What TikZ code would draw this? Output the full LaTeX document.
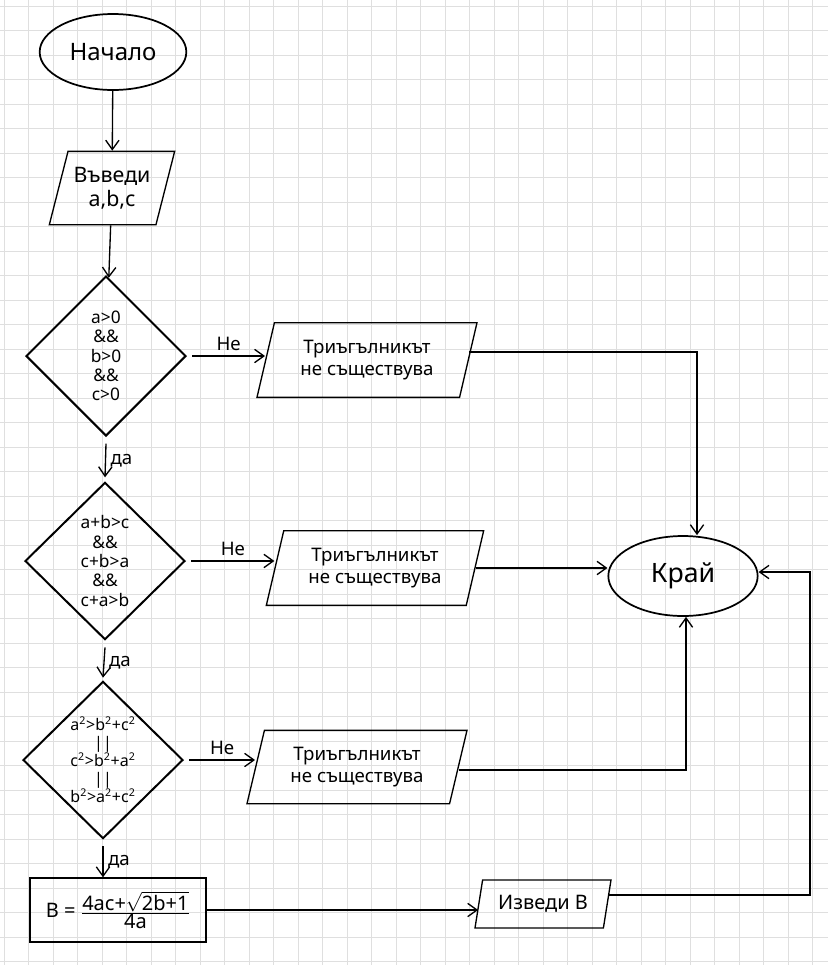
\documentclass[tikz,border=0pt]{standalone}
\usepackage{fontspec}
\setmainfont{Noto Sans}
\usetikzlibrary{shapes.geometric,arrows.meta}
\begin{document}
\begin{tikzpicture}[x=0.75pt,y=-0.75pt,
  every node/.style={align=center},
  line/.style={draw=black, line width=1pt},
  arr/.style={line, -{Straight Barb[length=7pt,width=10pt]}},
  term/.style={ellipse, line width=1.3pt, draw, inner sep=0pt},
  dec/.style={diamond, draw, line width=1.5pt, inner sep=0pt},
  io/.style={trapezium, trapezium left angle=66, trapezium right angle=114, trapezium stretches body, draw, line width=1pt, inner sep=0pt, font=\fontsize{14}{16}\selectfont},
  lab/.style={font=\fontsize{14}{16}\selectfont}]
\fill[white] (0,0) rectangle (828,965);
\useasboundingbox (0,0) rectangle (828,965);
\foreach \i in {0,...,34} {\draw[gray!25, line width=0.6pt] (4+\i*24.5,0) -- (4+\i*24.5,965);}
\foreach \i in {0,...,39} {\draw[gray!25, line width=0.6pt] (0,6+\i*24.5) -- (828,6+\i*24.5);}

\node[term, minimum width=110pt, minimum height=57pt, font=\fontsize{18}{20}\selectfont] (start) at (113,52) {Начало};
\node[io, minimum width=94pt, minimum height=55pt, font=\fontsize{16}{18}\selectfont] (in) at (112,188) {Въведи\\a,b,c};
\node[dec, minimum width=120pt, minimum height=120pt, font=\fontsize{13}{14.5}\selectfont] (d1) at (106,356) {a>0\\\&\&\\b>0\\\&\&\\c>0};
\node[dec, minimum width=120pt, minimum height=118pt, font=\fontsize{13}{14.5}\selectfont] (d2) at (105,561) {a+b>c\\\&\&\\c+b>a\\\&\&\\c+a>b};
\node[dec, minimum width=120pt, minimum height=118pt, font=\fontsize{12}{13.5}\selectfont] (d3) at (103,760) {a\textsuperscript{2}>b\textsuperscript{2}+c\textsuperscript{2}\\||\\c\textsuperscript{2}>b\textsuperscript{2}+a\textsuperscript{2}\\||\\b\textsuperscript{2}>a\textsuperscript{2}+c\textsuperscript{2}};
\node[draw, line width=1pt, minimum width=132pt, minimum height=48pt, inner sep=0pt, font=\fontsize{15}{17}\selectfont] (calc) at (118,910) {B = $\frac{\mbox{4ac+}\sqrt{\mbox{2b+1}}}{\mbox{4a}}$};
\node[io, minimum width=165pt, minimum height=56pt] (p1) at (367,360) {Триъгълникът\\не съществува};
\node[io, minimum width=163pt, minimum height=56pt] (p2) at (375,568) {Триъгълникът\\не съществува};
\node[io, minimum width=165pt, minimum height=55pt] (p3) at (357,767) {Триъгълникът\\не съществува};
\node[term, minimum width=112pt, minimum height=60pt, font=\fontsize{20}{22}\selectfont] (end) at (683,576) {Край};
\node[io, minimum width=102pt, minimum height=36pt, font=\fontsize{15}{17}\selectfont] (out) at (543,904) {Изведи B};

\draw[arr] (start) -- (in);
\draw[arr] (in) -- (d1);
\draw[arr] ([yshift=-5pt]d1.south) -- node[right, lab] {да} ([yshift=3pt]d2.north);
\draw[arr] ([yshift=-5pt]d2.south) -- node[right, lab] {да} ([yshift=2pt]d3.north);
\draw[arr] ([yshift=-5pt]d3.south) -- node[right, lab] {да} (d3.south |- calc.north);
\draw[arr] ([xshift=4pt]d1.east) -- node[above, lab] {Не} (d1.east -| p1.west);
\draw[arr] ([xshift=4pt]d2.east) -- node[above, lab] {Не} (d2.east -| p2.west);
\draw[arr] ([xshift=4pt]d3.east) -- node[above, lab] {Не} (d3.east -| p3.west);
\coordinate (c1) at (697,352);
\coordinate (c3) at (686,770);
\coordinate (c4a) at (810,895);
\coordinate (c4b) at (810,572);
\draw[arr] (p1.east |- c1) -- (c1) -- (c1 |- end.north);
\draw[arr] (p2.east) -- (p2.east -| end.west);
\draw[arr] (p3.east |- c3) -- (c3) -- (c3 |- end.south);
\draw[arr] (calc.east) -- (out.west |- calc.east);
\draw[arr] (out.east |- c4a) -- (c4a) -- (c4b) -- (end.east |- c4b);
\end{tikzpicture}
\end{document}
